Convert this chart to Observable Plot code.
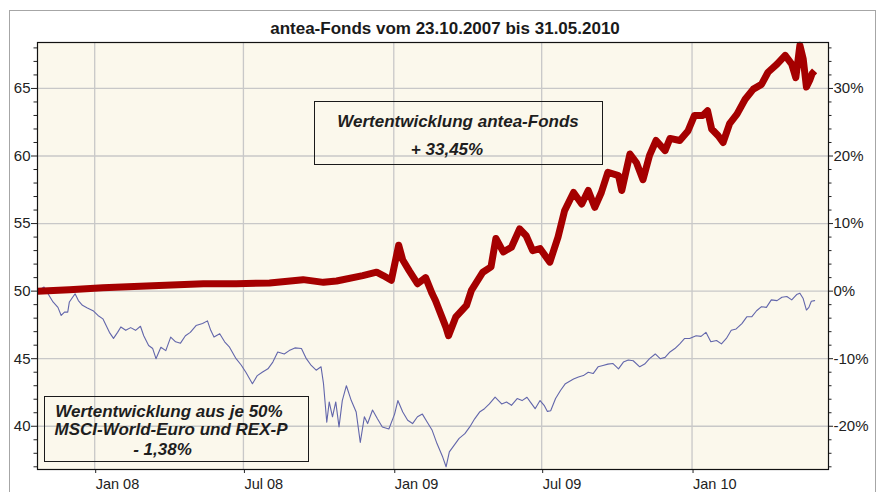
<!DOCTYPE html>
<html>
<head>
<meta charset="utf-8">
<script src="https://cdn.jsdelivr.net/npm/d3@7"></script>
<script src="https://cdn.jsdelivr.net/npm/@observablehq/plot@0.6"></script>
<style>
  html, body { margin: 0; padding: 0; background: #fff; }
  #wrap { position: relative; width: 882px; height: 492px; overflow: hidden; font-family: "Liberation Sans", Arial, sans-serif; color: #222; }
  #outer { position: absolute; left: 9px; top: 10px; width: 867px; height: 520px; border: 1.5px solid #a6a6a6; box-sizing: border-box; }
  #chart { position: absolute; left: 0; top: 0; }
  .title { position: absolute; top: 20px; left: 445px; transform: translateX(-50%); font-size: 17px; line-height: 17px; font-weight: bold; white-space: nowrap; color: #1a1a1a; }
  .box { position: absolute; border: 1.5px solid #1a1a1a; box-sizing: border-box; }
  .note { position: absolute; transform: translateX(-50%); font-size: 17px; line-height: 17px; font-weight: bold; font-style: italic; white-space: nowrap; color: #1e1e1e; }
</style>
</head>
<body>
<div id="wrap">
  <div id="outer"></div>
  <div id="chart"></div>
  <div class="title">antea-Fonds vom 23.10.2007 bis 31.05.2010</div>
  <div class="box" style="left:314px;top:101px;width:289px;height:64px;"></div>
  <div class="note" style="left:458px;top:112.5px;">Wertentwicklung antea-Fonds</div>
  <div class="note" style="left:447px;top:141px;">+ 33,45%</div>
  <div class="box" style="left:44px;top:396px;width:265px;height:66px;"></div>
  <div class="note" style="left:169px;top:402.5px;">Wertentwicklung aus je 50%</div>
  <div class="note" style="left:171px;top:420.5px;">MSCI-World-Euro und REX-P</div>
  <div class="note" style="left:162.5px;top:441px;">- 1,38%</div>
</div>
<script>
// antea-Fonds (thick red line), index value (start = 50)
const fundDates = ["2007-10-23","2007-12-01","2008-01-11","2008-03-12","2008-05-13","2008-06-22","2008-08-02","2008-09-12","2008-10-07","2008-10-23","2008-11-24","2008-12-11","2008-12-19","2008-12-29","2009-01-07","2009-01-12","2009-01-20","2009-01-30","2009-02-09","2009-02-17","2009-02-21","2009-03-06","2009-03-09","2009-03-18","2009-03-31","2009-04-06","2009-04-20","2009-04-30","2009-05-06","2009-05-15","2009-05-25","2009-06-04","2009-06-12","2009-06-20","2009-06-29","2009-07-11","2009-07-21","2009-07-29","2009-08-09","2009-08-19","2009-08-27","2009-09-04","2009-09-12","2009-09-20","2009-10-03","2009-10-07","2009-10-17","2009-10-25","2009-11-02","2009-11-10","2009-11-18","2009-11-29","2009-12-05","2009-12-17","2009-12-27","2010-01-04","2010-01-14","2010-01-20","2010-01-25","2010-02-02","2010-02-08","2010-02-16","2010-02-25","2010-03-07","2010-03-17","2010-03-27","2010-04-04","2010-04-15","2010-04-25","2010-05-03","2010-05-08","2010-05-13","2010-05-17","2010-05-21","2010-05-25","2010-05-28","2010-05-31"];
const fundValues = [50.0,50.1,50.25,50.4,50.55,50.55,50.6,50.85,50.65,50.75,51.15,51.4,51.15,50.8,53.4,52.3,51.5,50.55,51.0,49.8,49.3,47.3,46.7,48.1,48.95,50.05,51.4,51.8,53.9,52.9,53.25,54.6,54.1,53.0,53.15,52.15,54.0,55.95,57.3,56.45,57.45,56.2,57.3,58.8,58.55,57.45,60.15,59.5,58.25,60.05,61.15,60.4,61.3,61.15,61.85,63.0,63.0,63.35,62.0,61.5,61.0,62.4,63.1,64.2,64.95,65.3,66.2,66.8,67.45,66.8,65.8,68.2,67.2,65.1,65.6,66.1,66.3];

// 50% MSCI-World-Euro + 50% REX-P benchmark (thin blue line)
const benchDates = ["2007-10-23","2007-10-31","2007-11-06","2007-11-11","2007-11-17","2007-11-21","2007-11-25","2007-11-29","2007-12-01","2007-12-05","2007-12-08","2007-12-12","2007-12-17","2007-12-23","2007-12-30","2008-01-05","2008-01-11","2008-01-15","2008-01-19","2008-01-24","2008-01-29","2008-02-02","2008-02-08","2008-02-14","2008-02-20","2008-02-26","2008-03-01","2008-03-07","2008-03-12","2008-03-16","2008-03-22","2008-03-28","2008-04-03","2008-04-09","2008-04-15","2008-04-21","2008-04-27","2008-05-04","2008-05-12","2008-05-18","2008-05-22","2008-05-26","2008-06-02","2008-06-08","2008-06-14","2008-06-22","2008-06-28","2008-07-04","2008-07-12","2008-07-18","2008-07-24","2008-07-31","2008-08-06","2008-08-12","2008-08-20","2008-08-26","2008-09-02","2008-09-10","2008-09-16","2008-09-22","2008-09-28","2008-10-04","2008-10-07","2008-10-11","2008-10-14","2008-10-18","2008-10-22","2008-10-26","2008-10-30","2008-11-04","2008-11-10","2008-11-16","2008-11-21","2008-11-26","2008-11-30","2008-12-06","2008-12-12","2008-12-18","2008-12-26","2009-01-02","2009-01-06","2009-01-12","2009-01-18","2009-01-24","2009-01-30","2009-02-05","2009-02-11","2009-02-17","2009-02-23","2009-03-02","2009-03-06","2009-03-10","2009-03-16","2009-03-22","2009-03-29","2009-04-04","2009-04-10","2009-04-16","2009-04-22","2009-04-28","2009-05-05","2009-05-13","2009-05-19","2009-05-25","2009-06-01","2009-06-07","2009-06-13","2009-06-17","2009-06-23","2009-06-29","2009-07-04","2009-07-08","2009-07-12","2009-07-18","2009-07-24","2009-07-30","2009-08-09","2009-08-15","2009-08-21","2009-08-27","2009-09-02","2009-09-08","2009-09-14","2009-09-20","2009-09-26","2009-10-03","2009-10-09","2009-10-15","2009-10-21","2009-10-29","2009-11-04","2009-11-10","2009-11-17","2009-11-23","2009-11-29","2009-12-05","2009-12-11","2009-12-17","2009-12-23","2009-12-29","2010-01-06","2010-01-12","2010-01-18","2010-01-24","2010-01-31","2010-02-06","2010-02-12","2010-02-18","2010-02-24","2010-03-03","2010-03-09","2010-03-15","2010-03-21","2010-03-27","2010-04-02","2010-04-08","2010-04-15","2010-04-21","2010-04-27","2010-05-03","2010-05-09","2010-05-13","2010-05-17","2010-05-21","2010-05-24","2010-05-27","2010-05-31"];
const benchValues = [50.0,50.3,49.7,49.2,48.8,48.2,48.45,48.45,49.2,49.55,49.8,49.3,48.95,48.75,48.55,48.2,47.95,47.45,46.95,46.5,46.95,47.35,47.1,47.3,47.1,47.4,46.7,45.98,45.75,45.0,45.85,45.6,46.6,46.25,46.15,46.7,46.95,47.45,47.6,47.8,47.1,46.6,46.85,46.25,45.85,45.0,44.55,44.0,43.15,43.75,44.0,44.25,44.75,45.5,45.35,45.6,45.8,45.75,45.0,44.5,44.15,44.4,43.15,40.3,41.8,40.7,41.8,39.95,41.9,43.0,41.9,41.05,38.8,40.7,40.2,41.2,40.55,39.95,39.8,40.9,41.9,41.05,40.45,40.2,40.7,40.9,40.3,39.7,38.7,37.7,37.0,38.1,38.6,39.1,39.45,39.95,40.55,41.05,41.3,41.65,42.15,41.65,41.8,41.55,42.05,41.9,42.15,41.8,41.3,41.9,41.55,41.1,41.15,42.05,42.65,43.15,43.5,43.65,43.75,44.0,43.9,44.4,44.5,44.6,44.65,44.25,44.75,44.9,44.85,44.4,44.6,45.0,45.35,45.0,45.1,45.5,45.75,46.1,46.5,46.5,46.7,46.65,46.95,46.25,46.35,46.1,46.5,47.1,47.2,47.6,48.1,48.1,48.55,48.85,48.8,49.35,49.3,49.55,49.6,49.35,49.75,49.85,49.45,48.6,48.8,49.25,49.3];

// axes
const xTickDates = ["2008-01-01","2008-07-01","2009-01-01","2009-07-01","2010-01-01"];
const xTickLabels = ["Jan 08","Jul 08","Jan 09","Jul 09","Jan 10"];
const yTicks = [40,45,50,55,60,65];
const yRightLabels = ["-20%","-10%","0%","10%","20%","30%"];
const yMinorTicks = [37,38,39,41,42,43,44,46,47,48,49,51,52,53,54,56,57,58,59,61,62,63,64,66,67,68];

const fund = fundDates.map((d, i) => ({date: new Date(d), value: fundValues[i]}));
const bench = benchDates.map((d, i) => ({date: new Date(d), value: benchValues[i]}));
const xTicks = xTickDates.map(d => new Date(d));
const xLabelMap = new Map(xTicks.map((d, i) => [+d, xTickLabels[i]]));
const yRightMap = new Map(yTicks.map((v, i) => [v, yRightLabels[i]]));

const chart = Plot.plot({
  width: 882,
  height: 492,
  marginLeft: 37,
  marginRight: 54,
  marginTop: 42,
  marginBottom: 23,
  style: {fontFamily: "'Liberation Sans', Arial, sans-serif", fontSize: "15px", color: "#222", background: "transparent", overflow: "visible"},
  x: {type: "utc", domain: [new Date("2007-10-23"), new Date("2010-06-17")]},
  y: {domain: [36.8, 68.4]},
  marks: [
    Plot.frame({fill: "#fbf8ec", stroke: null}),
    Plot.gridX({ticks: xTicks, stroke: "#c8c8c8", strokeOpacity: 1, strokeWidth: 1.3}),
    Plot.gridY({ticks: yTicks, stroke: "#c8c8c8", strokeOpacity: 1, strokeWidth: 1.3}),
    Plot.lineY(bench, {x: "date", y: "value", stroke: "#6266ab", strokeWidth: 1.1}),
    Plot.lineY(fund, {x: "date", y: "value", stroke: "#a50000", strokeWidth: 7, strokeLinecap: "butt", strokeLinejoin: "round"}),
    Plot.axisY({anchor: "left", ticks: yTicks, tickSize: 6, tickPadding: 1, label: null}),
    Plot.axisY({anchor: "left", ticks: yMinorTicks, tickSize: 3.5, fill: "none", label: null}),
    Plot.axisY({anchor: "right", ticks: yTicks, tickSize: 4, tickPadding: 1, tickFormat: v => yRightMap.get(v), label: null}),
    Plot.axisY({anchor: "right", ticks: yMinorTicks, tickSize: 2.5, fill: "none", label: null}),
    Plot.axisX({anchor: "bottom", ticks: xTicks, tickSize: 4, tickPadding: 5, textAnchor: "start", dx: 1, fontSize: 14.5, tickFormat: d => xLabelMap.get(+d), label: null}),
    Plot.frame({stroke: "#111", strokeWidth: 1.2})
  ]
});
document.getElementById("chart").appendChild(chart);
</script>
</body>
</html>
